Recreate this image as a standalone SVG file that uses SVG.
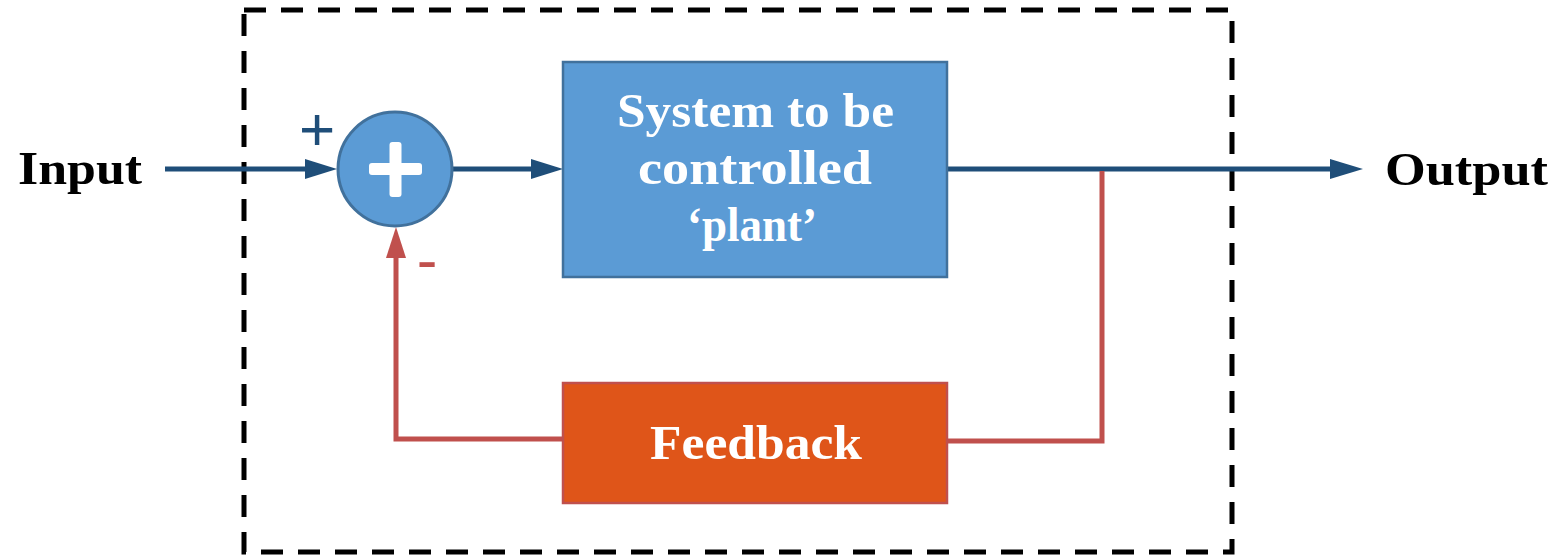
<svg xmlns="http://www.w3.org/2000/svg" width="1562" height="557" viewBox="0 0 1562 557">
  <style>
    .lbl { font-family: "Liberation Serif", "Times New Roman", serif; font-weight: bold; }
    .dark { fill: #000000; font-size: 46px; }
    .inbox { fill: #FFFFFF; font-size: 48px; }
    .sig { font-family: "Liberation Sans", Arial, sans-serif; font-size: 62px; }
    .fwd { fill: none; stroke: #1F4E79; stroke-width: 5; }
    .fb { fill: none; stroke: #C0504D; stroke-width: 5; }
    .headBlue { fill: #1F4E79; }
    .headRed { fill: #C0504D; }
  </style>

  <!-- system boundary -->
  <rect id="boundary" x="244" y="10" width="988" height="542" fill="none" stroke="#000000" stroke-width="5" stroke-dasharray="22 15"/>

  <!-- connectors -->
  <g id="connectors">
    <line class="fwd" x1="165" y1="169" x2="308" y2="169"/>
    <polygon class="headBlue" points="305,159 337,169 305,179"/>
    <line class="fwd" x1="453" y1="169" x2="534" y2="169"/>
    <polygon class="headBlue" points="531,159 563,169 531,179"/>
    <line class="fwd" x1="947" y1="169" x2="1333" y2="169"/>
    <polygon class="headBlue" points="1330,159 1363,169 1330,179"/>
    <polyline class="fb" points="1102,171 1102,441 947,441"/>
    <polyline class="fb" points="563,439 396,439 396,255"/>
    <polygon class="headRed" points="386,258 396,227 406,258"/>
  </g>

  <!-- signal labels -->
  <g id="labels">
    <text id="input" class="lbl dark" x="18" y="184" textLength="124" lengthAdjust="spacingAndGlyphs">Input</text>
    <text id="output" class="lbl dark" x="1385" y="185" textLength="163" lengthAdjust="spacingAndGlyphs">Output</text>
    <text class="sig" x="317" y="150" text-anchor="middle" fill="#1F4E79">+</text>
    <text class="sig" x="427" y="281" text-anchor="middle" fill="#C0504D">-</text>
  </g>

  <!-- summing junction -->
  <g id="sum">
    <circle cx="395" cy="169" r="57" fill="#5B9BD5" stroke="#41719C" stroke-width="3"/>
    <rect x="369" y="163" width="53" height="12" rx="3" fill="#FFFFFF"/>
    <rect x="389.5" y="142" width="12" height="55" rx="3" fill="#FFFFFF"/>
  </g>

  <!-- plant -->
  <g id="plant">
    <rect x="563" y="62" width="384" height="215" fill="#5B9BD5" stroke="#41719C" stroke-width="2.5"/>
    <text class="lbl inbox" x="617" y="127" textLength="277" lengthAdjust="spacingAndGlyphs">System to be</text>
    <text class="lbl inbox" x="638" y="184" textLength="234" lengthAdjust="spacingAndGlyphs">controlled</text>
    <text class="lbl inbox" x="687" y="241" textLength="130" lengthAdjust="spacingAndGlyphs">‘plant’</text>
  </g>

  <!-- feedback element -->
  <g id="feedback">
    <rect x="563" y="383" width="384" height="120" fill="#DF5519" stroke="#C0504D" stroke-width="2.5"/>
    <text class="lbl inbox" x="650" y="459" textLength="212" lengthAdjust="spacingAndGlyphs">Feedback</text>
  </g>
</svg>
